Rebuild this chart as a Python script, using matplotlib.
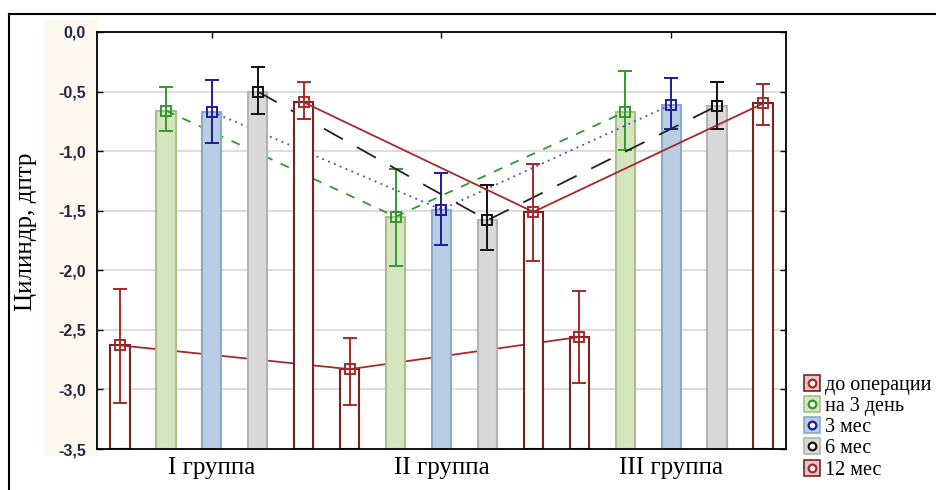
import matplotlib.pyplot as plt
import numpy as np
from matplotlib.lines import Line2D
from matplotlib.patches import Rectangle

# data
groups = ['I группа', 'II группа', 'III группа']
series = ['до операции', 'на 3 день', '3 мес', '6 мес', '12 мес']

mean_before = [-2.63, -2.83, -2.56]
mean_3day = [-0.66, -1.55, -0.67]
mean_3mon = [-0.67, -1.49, -0.61]
mean_6mon = [-0.50, -1.58, -0.62]
mean_12mon = [-0.59, -1.51, -0.60]

low_before = [-3.11, -3.13, -2.95]
low_3day = [-0.83, -1.96, -0.99]
low_3mon = [-0.93, -1.79, -0.81]
low_6mon = [-0.69, -1.83, -0.81]
low_12mon = [-0.73, -1.92, -0.78]

high_before = [-2.16, -2.57, -2.17]
high_3day = [-0.46, -1.15, -0.33]
high_3mon = [-0.40, -1.18, -0.39]
high_6mon = [-0.29, -1.28, -0.42]
high_12mon = [-0.42, -1.11, -0.44]

yticks = [0.0, -0.5, -1.0, -1.5, -2.0, -2.5, -3.0, -3.5]

means = [mean_before, mean_3day, mean_3mon, mean_6mon, mean_12mon]
lows = [low_before, low_3day, low_3mon, low_6mon, low_12mon]
highs = [high_before, high_3day, high_3mon, high_6mon, high_12mon]

# bar face, bar edge, line colour, line style
styles = [
    ('white', '#7a2222', '#a52a2a', '-'),
    ('#d6e4bf', '#a9c086', '#2e9a2e', (0, (5, 5))),
    ('#b9cde5', '#8ca8ca', '#4848cc', (0, (1, 2.5))),
    ('#d9d9d9', '#b3b3b3', '#222222', (0, (12, 9))),
    ('white', '#7a2222', '#a52a2a', '-'),
]
err_colors = ['#a52a2a', '#2e9a2e', '#1c1c9c', '#111111', '#a52a2a']

bottom = -3.5
n_ser = len(series)

fig = plt.figure(figsize=(9.37, 4.90), dpi=100)
ax = fig.add_axes([97 / 937, 1 - 449 / 490, 689 / 937, 417 / 490])

# cream band behind the y tick labels
ax.add_artist(Rectangle((45 / 937, 1 - 455 / 490), 52 / 937, 435 / 490,
                        transform=fig.transFigure, color='#fdf8ee',
                        clip_on=False, zorder=-5))

for i in range(n_ser):
    face, edge, lc, ls = styles[i]
    x = np.arange(len(groups)) * n_ser + i
    m = np.array(means[i])
    lo = np.array(lows[i])
    hi = np.array(highs[i])
    z = 3 + 3 * i
    ax.bar(x, m - bottom, bottom=bottom, width=0.42, color=face,
           edgecolor=edge, linewidth=1.5, zorder=z)
    ax.plot(x, m, color=lc, linestyle=ls, linewidth=1.3, zorder=z + 1)
    ax.errorbar(x, m, yerr=[m - lo, hi - m], fmt='s', markersize=6.5,
                mfc='none', mec=err_colors[i], mew=1.4, ecolor=err_colors[i],
                elinewidth=1.4, capsize=5, capthick=1.4, zorder=z + 2)

ax.set_xlim(-0.5, len(groups) * n_ser - 0.5)
ax.set_ylim(-3.5, 0.0)
ax.set_yticks(yticks)
ax.set_yticklabels([('%.1f' % v).replace('.', ',') for v in yticks],
                   fontfamily='Liberation Sans', fontweight='bold',
                   fontsize=11.5, color='#26264a')
ax.set_xticks(np.arange(len(groups)) * n_ser + 2)
ax.set_xticklabels(groups, fontfamily='Liberation Serif', fontsize=18)
ax.tick_params(axis='both', direction='in', length=4, width=1,
               top=True, right=True)
ax.tick_params(axis='x', pad=6)
ax.tick_params(axis='y', pad=8)
ax.grid(axis='y', color='#dedede', linewidth=1.5, zorder=0)
ax.set_axisbelow(True)
for s in ax.spines.values():
    s.set_linewidth(1.3)
    s.set_zorder(30)

ax.set_ylabel('Цилиндр, дптр', fontfamily='Liberation Serif', fontsize=18)
ax.yaxis.set_label_coords(-0.087, 0.52)

# legend: pale square with the series marker on top
handles = []
for i in range(n_ser):
    face, edge, lc, ls = styles[i]
    sq_face = '#e7c4c4' if face == 'white' else face
    sq = Line2D([], [], linestyle='none', marker='s', markersize=12,
                mfc=sq_face, mec=edge, mew=1.2)
    dot = Line2D([], [], linestyle='none', marker='o', markersize=5.5,
                 mfc='white', mec=err_colors[i], mew=1.6)
    handles.append((sq, dot))
fig.legend(handles, series, loc='upper left',
           bbox_to_anchor=(796 / 937, 1 - 368 / 490), frameon=False,
           prop={'family': 'Liberation Serif', 'size': 14.5},
           handlelength=0.8, handletextpad=0.25, labelspacing=0.1,
           borderaxespad=0)

# outer frame (top and left only)
fig.add_artist(Line2D([9 / 937, 1.0], [1 - 14 / 490, 1 - 14 / 490],
                      transform=fig.transFigure, color='black', linewidth=1.5))
fig.add_artist(Line2D([9 / 937, 9 / 937], [0.0, 1 - 14 / 490],
                      transform=fig.transFigure, color='black', linewidth=1.5))

fig.savefig('out.png', dpi=100)
